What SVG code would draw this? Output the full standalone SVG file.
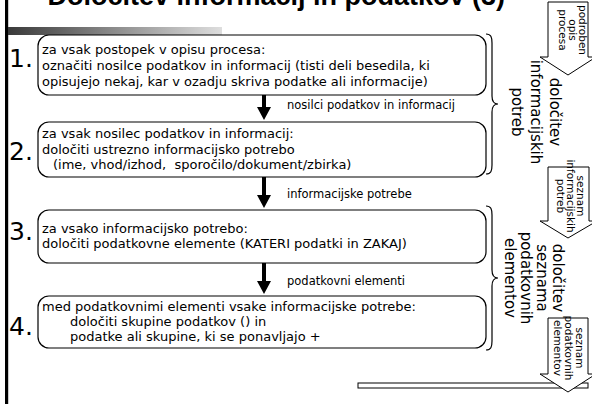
<svg xmlns="http://www.w3.org/2000/svg" width="592" height="404" viewBox="0 0 592 404">
<defs>
<linearGradient id="gbar" x1="0" y1="0" x2="1" y2="0">
<stop offset="0" stop-color="#3a3a3a"/>
<stop offset="1" stop-color="#dedede"/>
</linearGradient>
<style>
.t{font-family:"DejaVu Sans",Verdana,sans-serif;font-size:13px;fill:#000;white-space:pre}
.lbl{font-size:11.5px}
.num{font-size:25px}
.big{font-size:15px;text-anchor:middle}
.sm{font-size:10.5px;text-anchor:middle}
.title{font-family:"Liberation Sans",Arial,sans-serif;font-weight:bold;font-size:27px;fill:#000;text-anchor:end}
.box{fill:#fff;stroke:#000;stroke-width:1.2}
.blk{fill:#fff;stroke:#000;stroke-width:1}
.arr{fill:#000;stroke:none}
.brace{fill:none;stroke:#000;stroke-width:1.2}
</style>
</defs>
<rect width="592" height="404" fill="#fff"/>
<g id="frame">
<text class="title" x="505" y="5">Določitev informacij in podatkov (3)</text>
<rect x="5" y="0" width="3.2" height="404" fill="#000"/>
<rect x="8" y="27" width="214" height="8" fill="url(#gbar)"/>
</g>
<g id="step1">
<rect class="box" x="38" y="35" width="448" height="60" rx="11"/>
<text class="t num" x="9" y="67">1.</text>
<text class="t" x="42" y="54">za vsak postopek v opisu procesa:</text>
<text class="t" x="42" y="70">označiti nosilce podatkov in informacij (tisti deli besedila, ki</text>
<text class="t" x="42" y="86">opisujejo nekaj, kar v ozadju skriva podatke ali informacije)</text>
</g>
<g id="step2">
<rect class="box" x="38" y="122" width="448" height="55" rx="11"/>
<text class="t num" x="9" y="160">2.</text>
<text class="t" x="42" y="138">za vsak nosilec podatkov in informacij:</text>
<text class="t" x="42" y="154">določiti ustrezno informacijsko potrebo</text>
<text class="t" x="53" y="169">(ime, vhod/izhod,  sporočilo/dokument/zbirka)</text>
</g>
<g id="step3">
<rect class="box" x="38" y="210" width="448" height="53" rx="11"/>
<text class="t num" x="9" y="240">3.</text>
<text class="t" x="42" y="233">za vsako informacijsko potrebo:</text>
<text class="t" x="42" y="248">določiti podatkovne elemente (KATERI podatki in ZAKAJ)</text>
</g>
<g id="step4">
<rect class="box" x="38" y="296" width="448" height="52" rx="11"/>
<text class="t num" x="9" y="335">4.</text>
<text class="t" x="42" y="311">med podatkovnimi elementi vsake informacijske potrebe:</text>
<text class="t" x="70" y="326">določiti skupine podatkov () in</text>
<text class="t" x="70" y="341">podatke ali skupine, ki se ponavljajo +</text>
</g>
<g id="connectors">
<path class="arr" d="M262,95 H266 V107 H271 L264,120 L257,107 H262 Z"/>
<text class="t lbl" x="287" y="109">nosilci podatkov in informacij</text>
<path class="arr" d="M262,177 H266 V195 H271 L264,208 L257,195 H262 Z"/>
<text class="t lbl" x="287" y="198">informacijske potrebe</text>
<path class="arr" d="M262,263 H266 V281 H271 L264,294 L257,281 H262 Z"/>
<text class="t lbl" x="287" y="285">podatkovni elementi</text>
<path class="brace" d="M486,34 C491,34 492,37 492,43 L492,96 C492,101 494,104 498,104 C494,104 492,107 492,112 L492,165 C492,171 491,174 486,174"/>
<path class="brace" d="M486,206 C491,206 492,209 492,215 L492,270 C492,275 494,278 498,278 C494,278 492,281 492,286 L492,341 C492,347 491,350 486,350"/>
</g>
<g id="phase1">
<text class="t big" transform="rotate(90 550 112)" x="550" y="112">določitev</text>
<text class="t big" transform="rotate(90 531 112)" x="531" y="112">informacijskih</text>
<text class="t big" transform="rotate(90 512 112)" x="512" y="112">potreb</text>
</g>
<g id="phase2">
<text class="t big" transform="rotate(90 553 278)" x="553" y="278">določitev</text>
<text class="t big" transform="rotate(90 537 278)" x="537" y="278">seznama</text>
<text class="t big" transform="rotate(90 521 278)" x="521" y="278">podatkovnih</text>
<text class="t big" transform="rotate(90 505 278)" x="505" y="278">elementov</text>
</g>
<g id="input-process">
<path class="blk" d="M548,2 H588 V57 H596 L568,75 L540,57 H548 Z"/>
<text class="t sm" transform="rotate(90 579 30)" x="579" y="30">podroben</text>
<text class="t sm" transform="rotate(90 569 30)" x="569" y="30">opis</text>
<text class="t sm" transform="rotate(90 559 30)" x="559" y="30">procesa</text>
</g>
<g id="list-needs">
<path class="blk" d="M548,167 H589 V221 H597 L568,238 L540,221 H548 Z"/>
<text class="t sm" transform="rotate(90 577 196)" x="577" y="196">seznam</text>
<text class="t sm" transform="rotate(90 567 196)" x="567" y="196">informacijskih</text>
<text class="t sm" transform="rotate(90 557 196)" x="557" y="196">potreb</text>
</g>
<g id="bar">
<rect class="blk" x="358" y="383" width="230" height="5"/>
</g>
<g id="list-elements">
<path class="blk" d="M548,318 H588 V374 H596 L568,392 L540,374 H548 Z"/>
<text class="t sm" transform="rotate(90 576 348)" x="576" y="348">seznam</text>
<text class="t sm" transform="rotate(90 565 348)" x="565" y="348">podatkovnih</text>
<text class="t sm" transform="rotate(90 554 348)" x="554" y="348">elementov</text>
</g>
</svg>
